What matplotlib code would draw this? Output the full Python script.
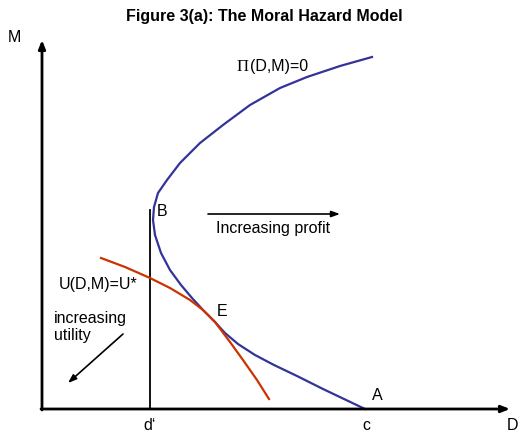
import matplotlib.pyplot as plt

# zero-profit curve Pi(D,M)=0, points (D, M)
profit_d = [330, 298, 265, 238, 208, 181, 158, 138, 125, 116, 112, 111, 113, 119, 128, 139,
            150, 161, 173, 183, 196, 213, 232, 255, 281, 323]
profit_m = [352, 343, 332, 321, 304, 284, 266, 246, 229, 216, 202, 189, 174, 156, 139, 124,
            111, 99, 87, 76, 65, 54, 44, 33, 20, 0]

# indifference curve U(D,M)=U*
util_d = [59, 83, 108, 128, 148, 161, 173, 188, 201, 215, 227]
util_m = [151, 142, 131, 121, 109, 99, 87, 67, 49, 29, 10]

d_prime = 108
d_prime_top = 199
d_axis_end = 468
m_axis_end = 369

blue = '#333399'
red = '#cc3300'
sans = 'Liberation Sans'

fig = plt.figure(figsize=(5.29, 4.33), dpi=100)
ax = fig.add_axes([0, 0, 1, 1])
ax.set_xlim(-42, 487)
ax.set_ylim(-24, 409)
ax.axis('off')

# axes with arrow heads
arrow = dict(arrowstyle='-|>,head_length=0.5,head_width=0.2', color='black', lw=2, shrinkA=0, shrinkB=0)
ax.annotate('', xy=(d_axis_end, 0), xytext=(-1, 0), arrowprops=arrow)
ax.annotate('', xy=(0, m_axis_end), xytext=(0, -1), arrowprops=arrow)

ax.plot([d_prime, d_prime], [0, d_prime_top], color='black', lw=1.3)
ax.plot(profit_d, profit_m, color=blue, lw=1.6, solid_joinstyle='round')
ax.plot(util_d, util_m, color=red, lw=1.6, solid_joinstyle='round')

thin = dict(arrowstyle='-|>,head_length=0.5,head_width=0.18', color='black', lw=1.2, shrinkA=0, shrinkB=0)
ax.annotate('', xy=(298, 195), xytext=(166, 195), arrowprops=thin)
ax.annotate('', xy=(26, 26), xytext=(81, 75), arrowprops=thin)

fs = 11.5
ax.text(222, 393, 'Figure 3(a): The Moral Hazard Model', ha='center', va='center',
        fontsize=11.5, fontweight='bold', family=sans)
ax.text(-28, 372, 'M', ha='center', va='center', fontsize=fs, family=sans)
ax.text(470, -16, 'D', ha='center', va='center', fontsize=fs, family=sans)
ax.text(108, -16, 'd\u2018', ha='center', va='center', fontsize=fs, family=sans)
ax.text(324, -16, 'c', ha='center', va='center', fontsize=fs, family=sans)
ax.text(335, 14, 'A', ha='center', va='center', fontsize=fs, family=sans)
ax.text(115, 197, 'B', ha='left', va='center', fontsize=fs, family=sans)
ax.text(175, 98, 'E', ha='left', va='center', fontsize=fs, family=sans)
ax.text(17, 125, 'U(D,M)=U*', ha='left', va='center', fontsize=fs, family=sans)
ax.text(12, 98, 'increasing\nutility', ha='left', va='top', fontsize=fs, family=sans, linespacing=1.2)
ax.text(174, 181, 'Increasing profit', ha='left', va='center', fontsize=fs, family=sans)
ax.text(195, 342, '\u03a0', ha='left', va='center', fontsize=12, family='Liberation Serif')
ax.text(208, 342, '(D,M)=0', ha='left', va='center', fontsize=fs, family=sans)

fig.savefig('out.png', dpi=100)
